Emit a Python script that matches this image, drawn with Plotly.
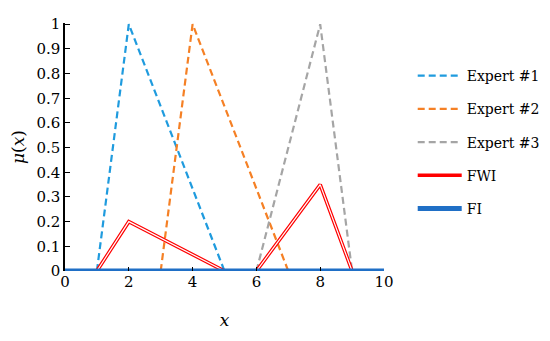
import plotly.graph_objects as go

# membership functions (x, mu)
expert1_x = [1, 2, 5]
expert1_y = [0, 1, 0]
expert2_x = [3, 4, 7]
expert2_y = [0, 1, 0]
expert3_x = [6, 8, 9]
expert3_y = [0, 1, 0]
fwi_x = [1, 2, 5, None, 6, 8, 9]
fwi_y = [0, 0.2, 0, None, 0, 0.35, 0]
fi_x = [0, 10]
fi_y = [0, 0]
y_ticks = [0, 0.1, 0.2, 0.3, 0.4, 0.5, 0.6, 0.7, 0.8, 0.9, 1]
y_labels = ["0", "0.1", "0.2", "0.3", "0.4", "0.5", "0.6", "0.7", "0.8", "0.9", "1"]

font = "DejaVu Serif"

fig = go.Figure()

dash = "7px,4px"
for xs, ys, name, color in [
    (expert1_x, expert1_y, "Expert #1", "#1F9BDE"),
    (expert2_x, expert2_y, "Expert #2", "#F58025"),
    (expert3_x, expert3_y, "Expert #3", "#A5A5A5"),
]:
    fig.add_trace(go.Scatter(
        x=xs, y=ys, mode="lines", name=name, legendgroup=name,
        line=dict(color=color, width=2.2, dash=dash)
    ))

fig.add_trace(go.Scatter(
    x=fwi_x, y=fwi_y, mode="lines", name="FWI", legendgroup="FWI",
    line=dict(color="#FF0000", width=3.6)
))
fig.add_trace(go.Scatter(
    x=fwi_x, y=fwi_y, mode="lines", showlegend=False, legendgroup="FWI",
    hoverinfo="skip", line=dict(color="white", width=1.2)
))
fig.add_trace(go.Scatter(
    x=fi_x, y=fi_y, mode="lines", name="FI", legendgroup="FI",
    line=dict(color="#1F6FC6", width=5)
))

# page body adds an 8px margin, so the figure is 8px smaller and offset
fig.update_layout(
    width=542, height=333,
    margin=dict(l=57, r=166, t=15, b=70, autoexpand=False),
    paper_bgcolor="white", plot_bgcolor="white",
    font=dict(family=font, size=15, color="black"),
    legend=dict(
        x=1.09, xanchor="left", y=0.52, yanchor="middle",
        font=dict(size=14), itemwidth=44,
        traceorder="grouped", tracegroupgap=12
    ),
    xaxis=dict(
        range=[0, 10], dtick=2, showgrid=False, zeroline=False,
        ticks="inside", ticklen=4, tickcolor="black",
        showline=False, automargin=False,
        title=dict(text="<i>x</i>", standoff=24, font=dict(size=17))
    ),
    yaxis=dict(
        range=[0, 1.005], tickvals=y_ticks, ticktext=y_labels,
        showgrid=False, zeroline=False,
        ticks="inside", ticklen=5, tickcolor="black",
        showline=True, linecolor="black", linewidth=1.5,
        automargin=False,
        title=dict(text="<i>μ</i>(<i>x</i>)", standoff=12, font=dict(size=17))
    ),
)

fig.write_html("out.html")
